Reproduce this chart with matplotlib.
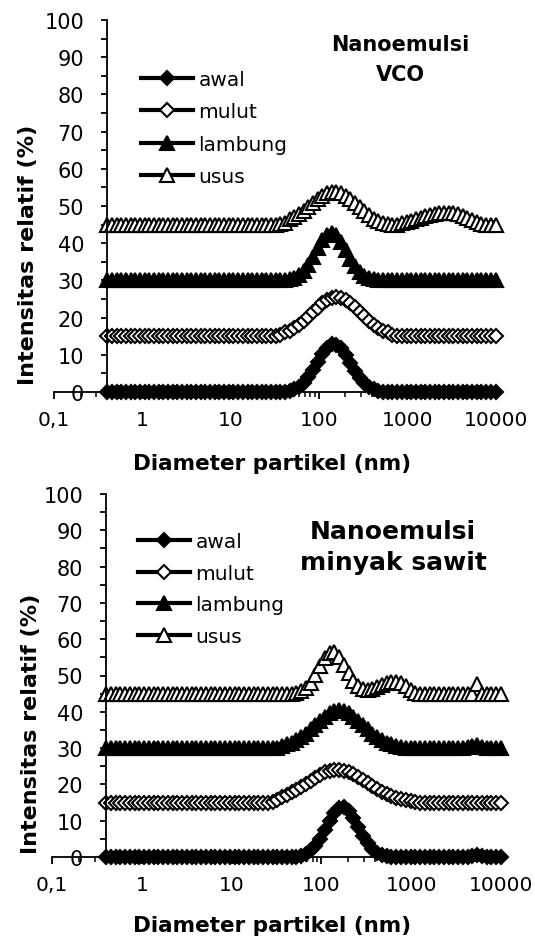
import matplotlib
matplotlib.use("Agg")
import matplotlib.pyplot as plt
from matplotlib.ticker import LogLocator, FixedLocator, MultipleLocator, NullFormatter

# Particle size classes (nm)
diameter = [0.400, 0.452, 0.511, 0.577, 0.652, 0.736, 0.832, 0.940, 1.062, 1.200,
            1.355, 1.531, 1.730, 1.954, 2.208, 2.494, 2.818, 3.183, 3.596, 4.062,
            4.589, 5.185, 5.857, 6.617, 7.475, 8.444, 9.540, 10.78, 12.18, 13.75,
            15.54, 17.55, 19.83, 22.40, 25.31, 28.59, 32.30, 36.49, 41.22, 46.57,
            52.70, 59.43, 67.14, 75.85, 85.69, 96.80, 109.4, 123.6, 139.6, 157.7,
            178.2, 201.3, 227.4, 256.9, 290.2, 327.8, 370.3, 418.4, 472.6, 533.9,
            603.2, 681.4, 769.8, 869.6, 982.4, 1110, 1254, 1416, 1600, 1807,
            2042, 2307, 2606, 2944, 3325, 3757, 4244, 4794, 5416, 6118,
            6912, 7808, 8821, 10000]

series_names = ["awal", "mulut", "lambung", "usus"]
offsets = [0, 15, 30, 45]
N = len(diameter)


def pad(values_by_index):
    out = [0.0] * N
    for i, v in values_by_index.items():
        out[i] = v
    return out


# ---- Nanoemulsi VCO : intensity (%) per size class (non-zero classes) ----
vco_awal = pad({39: 0.4, 40: 0.7, 41: 1.4, 42: 2.4, 43: 3.9, 44: 5.9, 45: 8.0, 46: 10.2,
                47: 11.9, 48: 12.8, 49: 12.7, 50: 11.7, 51: 9.9, 52: 7.7, 53: 5.6,
                54: 3.7, 55: 2.3, 56: 1.3, 57: 0.7, 58: 0.3})
vco_mulut = pad({37: 0.4, 38: 1.0, 39: 1.5, 40: 2.2, 41: 3.0, 42: 4.0, 43: 5.2, 44: 6.5,
                 45: 7.7, 46: 8.9, 47: 9.8, 48: 10.4, 49: 10.6, 50: 10.4, 51: 9.8, 52: 8.9,
                 53: 7.8, 54: 6.5, 55: 5.3, 56: 4.1, 57: 3.0, 58: 2.2, 59: 1.5, 60: 1.0,
                 61: 0.4})
vco_lambung = pad({39: 0.3, 40: 0.7, 41: 1.4, 42: 2.5, 43: 4.2, 44: 6.3, 45: 8.7, 46: 10.8,
                   47: 12.3, 48: 12.8, 49: 12.1, 50: 10.4, 51: 8.1, 52: 5.8, 53: 3.8,
                   54: 2.2, 55: 1.2, 56: 0.6, 57: 0.3})
vco_usus = pad({37: 0.2, 38: 0.5, 39: 1.4, 40: 2.0, 41: 2.8, 42: 3.7, 43: 4.8, 44: 5.8,
                45: 6.9, 46: 7.7, 47: 8.4, 48: 8.8, 49: 8.8, 50: 8.4, 51: 7.8, 52: 6.9,
                53: 5.8, 54: 4.8, 55: 3.7, 56: 2.6, 57: 1.6, 58: 0.9, 59: 0.4, 60: 0.1,
                63: 0.3, 64: 0.6, 65: 1.0, 66: 1.4, 67: 1.8, 68: 2.2, 69: 2.6, 70: 2.9,
                71: 3.1, 72: 3.2, 73: 3.2, 74: 3.0, 75: 2.8, 76: 2.4, 77: 1.9, 78: 1.3,
                79: 0.6, 80: 0.1})

# ---- Nanoemulsi minyak sawit : intensity (%) per size class (non-zero classes) ----
sawit_awal = pad({41: 0.4, 42: 0.9, 43: 1.8, 44: 3.1, 45: 5.0, 46: 7.4, 47: 9.9, 48: 12.1,
                  49: 13.5, 50: 13.7, 51: 12.8, 52: 10.8, 53: 8.4, 54: 5.9, 55: 3.8,
                  56: 2.2, 57: 1.2, 58: 0.6, 59: 0.2,
                  77: 0.2, 78: 0.6, 79: 0.2})
sawit_mulut = pad({35: 0.2, 36: 0.6, 37: 1.6, 38: 2.2, 39: 2.8, 40: 3.5, 41: 4.3, 42: 5.2,
                   43: 6.0, 44: 6.9, 45: 7.6, 46: 8.3, 47: 8.7, 48: 9.0, 49: 9.0, 50: 8.8,
                   51: 8.4, 52: 7.8, 53: 7.1, 54: 6.3, 55: 5.4, 56: 4.5, 57: 3.7, 58: 3.0,
                   59: 2.3, 60: 1.8, 61: 1.3, 62: 0.9, 63: 0.7, 64: 0.4, 65: 0.2})
sawit_lambung = pad({37: 0.5, 38: 1.0, 39: 1.5, 40: 2.2, 41: 3.0, 42: 4.0, 43: 5.2, 44: 6.4,
                     45: 7.6, 46: 8.7, 47: 9.6, 48: 10.2, 49: 10.4, 50: 10.2, 51: 9.6,
                     52: 8.7, 53: 7.6, 54: 6.4, 55: 5.2, 56: 4.0, 57: 3.0, 58: 2.2,
                     59: 1.5, 60: 1.0, 61: 0.6, 62: 0.3,
                     76: 0.2, 77: 0.5, 78: 0.8, 79: 0.3})
sawit_usus = pad({40: 0.3, 41: 0.7, 42: 1.6, 43: 3.0, 44: 5.1, 45: 7.5, 46: 9.8, 47: 11.2,
                  48: 11.4, 49: 10.2, 50: 8.0, 51: 5.6, 52: 3.4, 53: 2.0, 54: 1.2, 55: 1.0,
                  56: 1.3, 57: 1.8, 58: 2.4, 59: 2.9, 60: 3.3, 61: 3.3, 62: 2.8, 63: 2.0,
                  64: 1.0, 65: 0.3, 78: 2.6})

x_tick_values = [0.1, 1, 10, 100, 1000, 10000]
x_tick_labels = ["0,1", "1", "10", "100", "1000", "10000"]
y_tick_values = [0, 10, 20, 30, 40, 50, 60, 70, 80, 90, 100]

marker_styles = [
    dict(marker="D", markersize=7.0, markerfacecolor="black"),
    dict(marker="D", markersize=7.0, markerfacecolor="white"),
    dict(marker="^", markersize=10.0, markerfacecolor="black"),
    dict(marker="^", markersize=10.0, markerfacecolor="white"),
]

W, H = 535, 937
fig = plt.figure(figsize=(W / 100, H / 100), dpi=100)


def px_rect(x0, x1, y_top, y_bottom):
    return [x0 / W, 1 - y_bottom / H, (x1 - x0) / W, (y_bottom - y_top) / H]


def draw_panel(rect, data, legend_anchor, spacing):
    ax = fig.add_axes(rect)
    for name, vals, off, st in zip(series_names, data, offsets, marker_styles):
        ax.plot(diameter, [v + off for v in vals], color="black", lw=3,
                markeredgecolor="black", markeredgewidth=1.5, clip_on=False,
                label=name, **st)
    ax.set_xscale("log")
    ax.set_xlim(0.1, 10000)
    ax.set_ylim(0, 100)
    ax.spines["top"].set_visible(False)
    ax.spines["right"].set_visible(False)
    ax.spines["left"].set_position(("data", 0.4))
    for s in ("left", "bottom"):
        ax.spines[s].set_linewidth(1.3)
    ax.xaxis.set_major_locator(FixedLocator(x_tick_values))
    ax.set_xticklabels(x_tick_labels)
    ax.xaxis.set_minor_locator(LogLocator(base=10, subs=[2, 3, 4, 5, 6, 7, 8, 9]))
    ax.xaxis.set_minor_formatter(NullFormatter())
    ax.yaxis.set_major_locator(FixedLocator(y_tick_values))
    ax.yaxis.set_minor_locator(MultipleLocator(5))
    ax.tick_params(axis="x", which="major", direction="out", length=5, width=1.3,
                   labelsize=14.5, pad=8)
    ax.tick_params(axis="x", which="minor", direction="out", length=3.5, width=1.1)
    ax.tick_params(axis="y", which="both", direction="out", length=4.5, width=1.3,
                   labelsize=15, pad=12)
    ax.legend(loc="upper left", bbox_to_anchor=legend_anchor,
              bbox_transform=fig.transFigure, frameon=False, fontsize=14.5,
              borderpad=0, borderaxespad=0, handlelength=2.6, handletextpad=0.25,
              labelspacing=spacing, numpoints=1)
    return ax


draw_panel(px_rect(54, 495.5, 21, 393),
           [vco_awal, vco_mulut, vco_lambung, vco_usus],
           (141 / W, 1 - 71 / H), 0.66)
draw_panel(px_rect(52, 501, 495, 858),
           [sawit_awal, sawit_mulut, sawit_lambung, sawit_usus],
           (138 / W, 1 - 533 / H), 0.63)

bold = dict(fontweight="bold", ha="center")
fig.text(400 / W, 1 - 45 / H, "Nanoemulsi", fontsize=15, va="center", **bold)
fig.text(400 / W, 1 - 75 / H, "VCO", fontsize=15, va="center", **bold)
fig.text(393 / W, 1 - 532 / H, "Nanoemulsi", fontsize=18, va="center", **bold)
fig.text(393 / W, 1 - 563 / H, "minyak sawit", fontsize=18, va="center", **bold)

fig.text(28 / W, 1 - 255 / H, "Intensitas relatif (%)", fontsize=16, rotation=90,
         va="center", **bold)
fig.text(31 / W, 1 - 724 / H, "Intensitas relatif (%)", fontsize=16, rotation=90,
         va="center", **bold)
fig.text(272 / W, 1 - 470 / H, "Diameter partikel (nm)", fontsize=15.5, va="baseline", **bold)
fig.text(272 / W, 1 - 932 / H, "Diameter partikel (nm)", fontsize=15.5, va="baseline", **bold)

fig.savefig("out.png", dpi=100)
